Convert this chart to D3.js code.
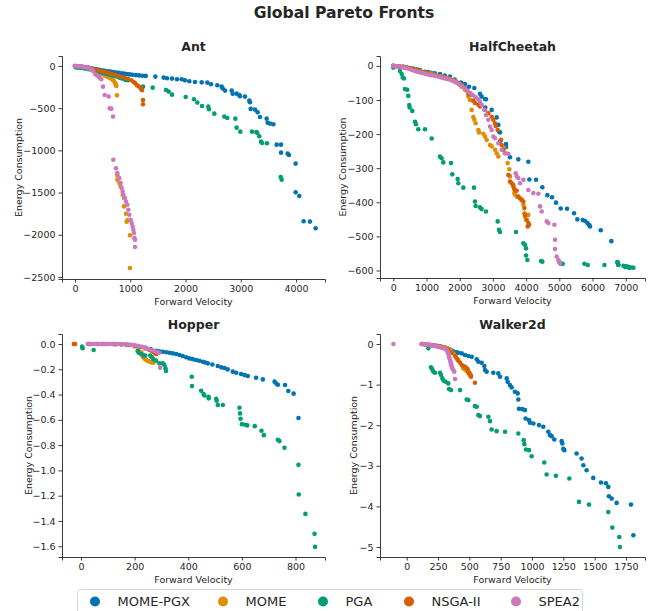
<!DOCTYPE html>
<html>
<head>
<meta charset="utf-8">
<script src="https://cdn.jsdelivr.net/npm/d3@7"></script>
<style>
body { margin: 0; background: #fff; }
text { font-family: "DejaVu Sans", sans-serif; fill: #262626; }
</style>
</head>
<body>
<script>
var w = 651;
var h = 611;

var methods = ["MOME-PGX", "MOME", "PGA", "NSGA-II", "SPEA2"];
var methodColors = ["#0173b2", "#de8f05", "#029e73", "#d55e00", "#cc78bc"];

//Ant
var antPgx = [[0,0],[40,-3],[90,-7],[140,-11],[190,-15],[240,-20],[290,-25],[340,-33],[390,-40],[440,-46],[490,-52],[540,-58],[590,-62],[640,-66],[690,-72],[740,-77],[790,-82],[840,-86],[890,-91],[940,-96],[990,-100],[1040,-104],[1100,-108],[1160,-112],[1220,-116],[1280,-118],[1454,-126],[1605,-138],[1665,-146],[1756,-150],[1846,-158],
  [1931,-158],[1991,-170],[2069,-182],[2172,-190],[2293,-194],[2395,-197],[2462,-217],[2576,-229],[2655,-245],[2673,-265],[2715,-292],[2836,-292],[2854,-328],[2926,-328],[2974,-344],[2986,-359],[3077,-363],[3155,-411],[3167,-430],[3180,-509],[3258,-517],[3306,-549],[3348,-604],[3469,-624],[3487,-672],[3529,-683],[3590,-691],[3650,-932],[3729,-932],[3729,-1027],[3849,-1039],[3873,-1055],[3994,-1157],[3994,-1497],[4060,-1540],[4139,-1840],[4253,-1844],[4356,-1923]];
var antMome = [[0,0],[50,-4],[100,-9],[150,-14],[200,-20],[250,-27],[300,-35],[350,-52],[392,-70],[450,-85],[500,-100],[550,-118],[600,-135],[650,-150],[680,-162],[700,-175],[724,-200],[735,-215],[742,-230],[750,-237],[760,-348],
  [766,-1297],[766,-1349],[802,-1388],[827,-1427],[863,-1526],[887,-1565],[887,-1664],[923,-1751],[947,-1830],[935,-1845],[995,-2007],[995,-2394]];
var antPga = [[10,-15],[50,-20],[100,-24],[150,-28],[200,-33],[250,-39],[300,-45],[350,-55],[400,-64],[450,-73],[500,-82],[550,-90],[600,-98],[650,-106],[700,-115],[750,-125],[800,-138],[850,-150],[911,-166],[960,-168],[1231,-245],[1406,-257],[1647,-284],[1695,-304],[1756,-340],
  [2003,-367],[2154,-395],[2214,-434],[2299,-474],[2413,-482],[2425,-513],[2522,-565],[2703,-600],[2757,-616],[2902,-624],[2926,-731],[2992,-778],[3204,-778],[3282,-782],[3300,-794],[3336,-833],[3367,-897],[3385,-913],[3475,-916],[3723,-1315],[3741,-1347]];
var antNsga = [[0,0],[60,-5],[120,-10],[180,-16],[240,-22],[300,-30],[360,-42],[420,-52],[480,-62],[540,-70],[600,-80],[660,-92],[720,-104],[780,-116],[840,-128],[900,-140],[960,-152],[1020,-170],[1062,-190],[1090,-205],[1122,-229],[1150,-240],[1183,-257],[1200,-272],[1213,-288],[1231,-403],[1231,-454]];
var antSpea = [[0,0],[30,-2],[60,-4],[90,-6],[120,-9],[150,-12],[180,-15],[210,-19],[240,-24],[270,-30],[300,-40],[330,-60],[368,-99],[400,-112],[428,-126],[450,-140],[476,-158],[507,-245],[537,-344],[610,-363],[628,-502],[658,-506],[688,-600],
  [694,-1112],[742,-1211],[766,-1270],[802,-1329],[827,-1388],[845,-1447],[863,-1487],[875,-1526],[905,-1565],[923,-1605],[947,-1644],[965,-1703],[983,-1763],[1008,-1822],[1026,-1861],[1044,-1901],[1056,-1940],[1068,-1979],[1074,-2039],[1086,-2058],[1086,-2145]];

//HalfCheetah
var hcPgx = [[0,0],[100,-1],[200,-2],[300,-3],[400,-4],[500,-6],[600,-8],[703,-10],[800,-12],[954,-17],[1050,-18],[1135,-20],[1250,-22],[1406,-24],[1550,-28],[1707,-31],[1850,-40],[2039,-49],[2159,-53],[2280,-61],[2441,-65],[2611,-82],[2661,-90],[2762,-97],[2792,-98],[2772,-122],[2963,-129],[3114,-151],[3164,-173],[3184,-193],
  [3214,-195],[3214,-222],[3395,-229],[3395,-238],[3515,-268],[3765,-274],[4066,-281],[4096,-333],[4298,-334],[4488,-356],[4639,-379],[4780,-385],[4900,-401],[5042,-418],[5232,-419],[5443,-432],[5542,-450],[5705,-452],[5774,-455],[5844,-461],[5904,-467],[5925,-471],[6247,-482],[6566,-514],[6747,-576],[6777,-583],[6979,-588],[7099,-592]];
var hcMome = [[0,0],[100,-1],[200,-2],[300,-3],[400,-5],[500,-7],[600,-10],[700,-13],[800,-16],[900,-18],[1000,-20],[1100,-22],[1200,-25],[1300,-28],[1400,-30],[1500,-32],[1600,-35],[1700,-38],[1800,-42],[1900,-46],[1950,-50],[2000,-55],[2059,-61],[2159,-70],[2209,-72],[2260,-90],[2310,-100],[2360,-129],[2410,-150],[2441,-158],[2481,-168],[2561,-188],[2581,-195],[2712,-199],[2762,-207],[2812,-217],[2913,-232],[2963,-236],[3063,-246],[3113,-256],[3164,-266],[3334,-241],[3445,-285],[3494,-303],[3515,-324],[3616,-349],[3646,-373],[3666,-378],[3716,-383],[3867,-393],[3917,-407],[3947,-432],[3967,-442],[4067,-437],[3997,-451]];
var hcPga = [[0,-5],[202,-15],[253,-24],[283,-34],[322,-37],[352,-68],[422,-70],[452,-88],[482,-115],[493,-122],[572,-132],[654,-164],[684,-171],[753,-186],[955,-186],[1156,-213],[1406,-266],[1456,-271],[1506,-283],[1737,-285],[1777,-318],[1938,-332],[1958,-344],[2109,-357],[2431,-357],[2461,-398],[2481,-411],[2611,-415],[2661,-420],[2792,-427],[3144,-456],[3184,-481],[3214,-487],[3696,-487],[3917,-520],[3967,-525],[3997,-535],[3997,-556],[4037,-569],[4449,-572],[4489,-574],[5022,-579],[5072,-580],[5102,-580],[5755,-580],[5856,-584],[6358,-584],[6760,-576],[6780,-584],[6931,-586],[6981,-590],[7031,-588],[7101,-590],[7181,-591],[7231,-592]];
var hcNsga = [[0,0],[150,-1],[300,-3],[450,-6],[600,-9],[750,-14],[900,-18],[1050,-21],[1200,-26],[1350,-30],[1500,-33],[1650,-37],[1800,-42],[1950,-50],[2050,-56],[2150,-64],[2209,-70],[2260,-82],[2360,-85],[2410,-102],[2461,-109],[2561,-114],[2611,-119],[2762,-129],[2862,-139],[2963,-149],[3013,-158],[3063,-168],[3083,-176],[3144,-188],[3244,-217],[3264,-232],[3314,-246],[3365,-256],[3465,-320],[3515,-339],[3565,-344],[3616,-354],[3646,-362],[3716,-366],[3766,-383],[3816,-388],[3867,-393],[3917,-398],[3947,-417],[3967,-437],[4017,-451],[4067,-461],[4088,-466],[4047,-471]];
var hcSpea = [[0,0],[80,-1],[160,-2],[240,-3],[320,-5],[400,-7],[480,-9],[560,-12],[640,-15],[720,-17],[800,-19],[880,-21],[960,-23],[1040,-25],[1120,-27],[1200,-28],[1280,-30],[1360,-32],[1440,-34],[1520,-36],[1600,-38],[1680,-40],[1760,-43],[1840,-46],[1920,-50],[2000,-54],[2080,-60],[2160,-67],[2240,-74],[2320,-80],[2400,-86],[2480,-92],[2560,-98],[2611,-105],[2661,-114],[2742,-129],[2792,-144],[2862,-158],[2913,-178],[2963,-188],[3013,-207],[3063,-212],[3164,-227],[3264,-246],[3365,-256],[3465,-258],[3686,-315],[3716,-324],[3766,-329],[3816,-344],[3917,-334],[4067,-364],[4218,-373],[4369,-375],[4419,-412],[4469,-427],[4620,-456],[4670,-461],[4851,-466],[4871,-510],[4871,-537],[4921,-559],[4971,-569],[4991,-574],[5022,-579]];

//Hopper
var hopPgx = [[30,0],[60,0],[90,0],[120,-0.001],[150,-0.003],[180,-0.008],[210,-0.018],[240,-0.03],[260,-0.04],[280,-0.053],[292,-0.057],[305,-0.061],[318,-0.065],[330,-0.069],[342,-0.074],[355,-0.079],[367,-0.087],[379,-0.095],[392,-0.105],[404,-0.114],[416,-0.12],[429,-0.127],[441,-0.133],[454,-0.14],[463,-0.147],[473,-0.153],[490,-0.162],[510,-0.174],[523,-0.185],[535,-0.19],[547,-0.201],[566,-0.219],[579,-0.227],[597,-0.238],[610,-0.246],[622,-0.253],[653,-0.267],[678,-0.28],[722,-0.298],[728,-0.312],[734,-0.322],[761,-0.325],[773,-0.372],[793,-0.393],[811,-0.586]];
var hopMome = [[30,0],[80,0],[130,-0.002],[170,-0.008],[200,-0.02],[215,-0.04],[225,-0.066],[230,-0.1],[235,-0.111],[239,-0.121],[244,-0.127],[249,-0.135],[252,-0.137],[261,-0.145],[262,-0.145],[270,-0.148]];
var hopPga = [[4,-0.021],[6,-0.034],[47,-0.048],[211,-0.055],[215,-0.069],[224,-0.079],[233,-0.09],[239,-0.092],[258,-0.092],[265,-0.106],[270,-0.121],[280,-0.132],[292,-0.153],[305,-0.153],[311,-0.166],[315,-0.193],[317,-0.214],[413,-0.259],[414,-0.333],[448,-0.37],[457,-0.396],[460,-0.407],[476,-0.417],[476,-0.43],[504,-0.433],[506,-0.449],[510,-0.483],[529,-0.483],[591,-0.504],[593,-0.549],[595,-0.591],[600,-0.634],[613,-0.639],[620,-0.644],[648,-0.65],[673,-0.686],[682,-0.721],[734,-0.758],[740,-0.768],[759,-0.821],[811,-0.956],[812,-1.191],[837,-1.344],[871,-1.502],[873,-1.605]];
var hopNsga = [[-27,0],[-22,0],[30,0],[80,0],[130,-0.002],[170,-0.006],[200,-0.014],[220,-0.022],[240,-0.035],[255,-0.048],[265,-0.058],[272,-0.065],[276,-0.072],[281,-0.079]];
var hopSpea = [[25,0],[35,0],[45,0],[55,0],[65,0],[75,0],[85,0],[95,0],[105,0],[115,0],[125,0],[135,0],[145,-0.001],[155,-0.002],[165,-0.003],[175,-0.004],[185,-0.006],[195,-0.008],[205,-0.012],[215,-0.017],[225,-0.022],[235,-0.028],[245,-0.035],[255,-0.042],[265,-0.05],[275,-0.058],[285,-0.065],[292,-0.069],[295,-0.187]];

//Walker2d
var walkPgx = [[125,0],[150,-0.01],[175,-0.02],[200,-0.03],[225,-0.04],[250,-0.05],[275,-0.06],[300,-0.08],[320,-0.1],[340,-0.13],[360,-0.16],[380,-0.19],[399,-0.205],[412,-0.214],[439,-0.23],[465,-0.271],[492,-0.296],[519,-0.313],[559,-0.378],[572,-0.436],[598,-0.461],[620,-0.543],[625,-0.641],[638,-0.683],[691,-0.707],[731,-0.724],[745,-0.806],[798,-0.847],[806,-0.929],[824,-1.012],[838,-1.069],[864,-1.176],[886,-1.217],[891,-1.365],[896,-1.595],[923,-1.604],[944,-1.628],[949,-1.834],[976,-1.875],[984,-1.941],[1011,-1.957],[1056,-1.998],[1090,-2.039],[1130,-2.163],[1144,-2.245],[1157,-2.27],[1178,-2.352],[1237,-2.393],[1242,-2.451],[1250,-2.582],[1258,-2.615],[1356,-2.697],[1396,-2.821],[1410,-2.985],[1436,-3.109],[1489,-3.298],[1551,-3.413],[1590,-3.429],[1609,-3.52],[1614,-3.75],[1636,-3.808],[1676,-3.914],[1790,-3.956],[1809,-4.712]];
var walkMome = [[120,0],[150,-0.01],[180,-0.02],[210,-0.03],[240,-0.045],[270,-0.06],[300,-0.08],[320,-0.1],[340,-0.13],[355,-0.17],[372,-0.23],[391,-0.313],[407,-0.378],[452,-0.6],[465,-0.625],[479,-0.666],[492,-0.707],[505,-0.724],[513,-0.773]];
var walkPga = [[173,-0.107],[194,-0.576],[205,-0.625],[213,-0.683],[226,-0.707],[266,-0.707],[274,-0.765],[285,-0.847],[295,-0.905],[311,-0.929],[332,-0.97],[338,-1.11],[354,-1.135],[426,-1.135],[479,-1.365],[492,-1.382],[545,-1.53],[559,-1.546],[572,-1.752],[585,-1.776],[652,-1.793],[665,-1.9],[678,-2.105],[718,-2.146],[785,-2.163],[891,-2.204],[934,-2.368],[939,-2.467],[952,-2.599],[976,-2.615],[997,-2.763],[1098,-2.919],[1117,-3.215],[1191,-3.248],[1298,-3.314],[1375,-3.89],[1455,-3.956],[1609,-4.137],[1641,-4.523],[1697,-4.753],[1702,-5.0]];
var walkNsga = [[120,0],[150,-0.01],[180,-0.02],[210,-0.035],[240,-0.05],[270,-0.07],[300,-0.1],[320,-0.13],[332,-0.148],[359,-0.214],[386,-0.296],[399,-0.354],[412,-0.411],[426,-0.461],[439,-0.518],[452,-0.543],[465,-0.559],[479,-0.6],[487,-0.625],[492,-0.683],[497,-0.724],[505,-0.765],[513,-0.806],[545,-0.954]];
var walkSpea = [[-106,0],[120,0],[135,-0.005],[150,-0.01],[165,-0.015],[180,-0.022],[195,-0.03],[210,-0.04],[225,-0.05],[240,-0.06],[255,-0.07],[270,-0.08],[285,-0.095],[300,-0.11],[310,-0.125],[319,-0.148],[325,-0.19],[332,-0.23],[335,-0.27],[338,-0.313],[342,-0.35],[346,-0.395],[350,-0.44],[354,-0.477],[357,-0.52],[359,-0.559],[365,-0.6],[372,-0.641],[380,-0.683],[386,-0.863]];

//tick values
var antXTicks = [0, 1000, 2000, 3000, 4000];
var antYTicks = [0, -500, -1000, -1500, -2000, -2500];
var hcXTicks = [0, 1000, 2000, 3000, 4000, 5000, 6000, 7000];
var hcYTicks = [0, -100, -200, -300, -400, -500, -600];
var hopXTicks = [0, 200, 400, 600, 800];
var hopYTicks = [0, -0.2, -0.4, -0.6, -0.8, -1.0, -1.2, -1.4, -1.6];
var walkXTicks = [0, 250, 500, 750, 1000, 1250, 1500, 1750];
var walkYTicks = [0, -1, -2, -3, -4, -5];

var panels = [
  {title:"Ant", series:[antPgx, antMome, antPga, antNsga, antSpea], x0:62, x1:325, y0:56, y1:279,
   xDom:[-235, 4525], yDom:[-2524, 118], xTicks:antXTicks, yTicks:antYTicks, yFmt:d3.format("d"), ylx:18},
  {title:"HalfCheetah", series:[hcPgx, hcMome, hcPga, hcNsga, hcSpea], x0:380, x1:645, y0:56, y1:278,
   xDom:[-400, 7580], yDom:[-622, 29], xTicks:hcXTicks, yTicks:hcYTicks, yFmt:d3.format("d"), ylx:342},
  {title:"Hopper", series:[hopPgx, hopMome, hopPga, hopNsga, hopSpea], x0:62, x1:325, y0:334, y1:557,
   xDom:[-71, 910], yDom:[-1.685, 0.079], xTicks:hopXTicks, yTicks:hopYTicks, yFmt:d3.format(".1f"), ylx:28},
  {title:"Walker2d", series:[walkPgx, walkMome, walkPga, walkNsga, walkSpea], x0:380, x1:645, y0:334, y1:557,
   xDom:[-213, 1902], yDom:[-5.247, 0.247], xTicks:walkXTicks, yTicks:walkYTicks, yFmt:d3.format("d"), ylx:353}
];

//Create SVG element
var svg = d3.select("body")
            .append("svg")
            .attr("width", w)
            .attr("height", h);

svg.append("text")
   .attr("x", 344)
   .attr("y", 13)
   .attr("text-anchor", "middle")
   .attr("dominant-baseline", "central")
   .style("font-size", "15.6px")
   .style("font-weight", "bold")
   .text("Global Pareto Fronts");

panels.forEach(function(p) {
  var x = d3.scaleLinear().domain(p.xDom).range([p.x0, p.x1]);
  var y = d3.scaleLinear().domain(p.yDom).range([p.y1, p.y0]);
  var g = svg.append("g");

  //points, drawn in legend order so SPEA2 ends on top
  p.series.forEach(function(s, i) {
    g.append("g")
     .selectAll("circle")
     .data(s)
     .enter()
     .append("circle")
     .attr("cx", function(d) { return x(d[0]); })
     .attr("cy", function(d) { return y(d[1]); })
     .attr("r", 2.3)
     .style("fill", methodColors[i]);
  });

  var xAxis = g.append("g")
               .attr("transform", "translate(0," + p.y1 + ")")
               .call(d3.axisBottom(x).tickValues(p.xTicks).tickFormat(d3.format("d")).tickSizeOuter(0).tickSize(3.5).tickPadding(3));
  var yAxis = g.append("g")
               .attr("transform", "translate(" + p.x0 + ",0)")
               .call(d3.axisLeft(y).tickValues(p.yTicks).tickFormat(p.yFmt).tickSizeOuter(0).tickSize(3.5).tickPadding(3));
  [xAxis, yAxis].forEach(function(a) {
    a.select(".domain").attr("stroke", "#262626").attr("stroke-width", 0.9);
    a.selectAll(".tick line").attr("stroke", "#262626").attr("stroke-width", 0.9);
    a.selectAll(".tick text").style("font-size", "9.5px").style("font-family", "DejaVu Sans").attr("fill", "#262626");
  });

  g.append("text")
   .attr("x", (p.x0 + p.x1) / 2)
   .attr("y", 46)
   .attr("transform", "translate(0," + (p.y0 - 56) + ")")
   .attr("text-anchor", "middle")
   .attr("dominant-baseline", "central")
   .style("font-size", "12.5px")
   .style("font-weight", "bold")
   .text(p.title);

  g.append("text")
   .attr("x", (p.x0 + p.x1) / 2)
   .attr("y", p.y1 + 22)
   .attr("text-anchor", "middle")
   .attr("dominant-baseline", "central")
   .style("font-size", "9.5px")
   .text("Forward Velocity");

  g.append("text")
   .attr("transform", "translate(" + p.ylx + "," + ((p.y0 + p.y1) / 2) + ") rotate(-90)")
   .attr("text-anchor", "middle")
   .attr("dominant-baseline", "central")
   .style("font-size", "9.5px")
   .text("Energy Consumption");
});

//legend
var legend = svg.append("g");
legend.append("rect")
      .attr("x", 77.5)
      .attr("y", 589.5)
      .attr("width", 505)
      .attr("height", 30)
      .attr("rx", 3)
      .style("fill", "#fff")
      .style("stroke", "#d6d6d6");
var legendX = [95, 223, 323, 409, 516];
methods.forEach(function(m, i) {
  legend.append("circle")
        .attr("cx", legendX[i])
        .attr("cy", 601.5)
        .attr("r", 5)
        .style("fill", methodColors[i]);
  legend.append("text")
        .attr("x", legendX[i] + 22.5)
        .attr("y", 601)
        .attr("dominant-baseline", "central")
        .style("font-size", "13px")
        .text(m);
});
</script>
</body>
</html>
